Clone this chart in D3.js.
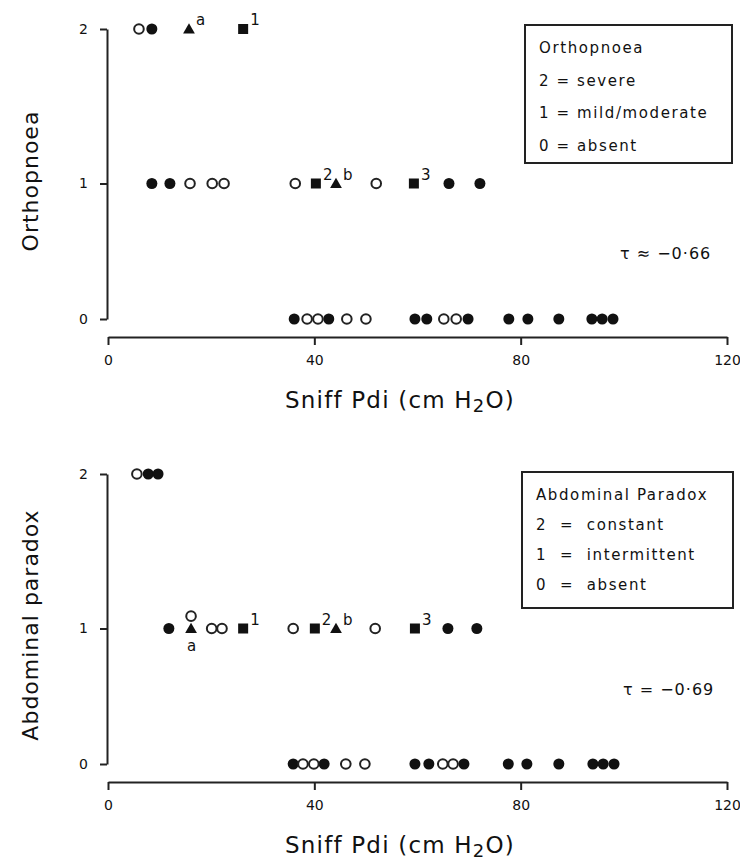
<!DOCTYPE html>
<html>
<head>
<meta charset="utf-8">
<script src="https://cdn.jsdelivr.net/npm/d3@7"></script>
<style>
  body { margin: 0; background: #fff; }
  svg text { font-family: "DejaVu Sans", sans-serif; fill: #111; }
  .axis path, .axis line { stroke: #222; stroke-width: 2px; }
  .axis text { font-size: 14px; }
</style>
</head>
<body>
<div id="chart"></div>
<script>

// ---- data ----
// x = sniff Pdi (cm H2O), y = score (0, 1, 2)
var xTicks = [0, 40, 80, 120];
var yTicks = [0, 1, 2];

// Orthopnoea panel
var orthoFilled = [[8.5, 2], [8.5, 1], [12, 1], [66.1, 1], [72.1, 1],
    [36.1, 0], [42.8, 0], [59.5, 0], [61.8, 0], [69.8, 0], [77.7, 0], [81.4, 0],
    [87.4, 0], [93.8, 0], [95.8, 0], [97.9, 0]];
var orthoOpen = [[6, 2], [15.9, 1], [20.2, 1], [22.5, 1], [36.3, 1], [52, 1],
    [38.6, 0], [40.7, 0], [46.3, 0], [50, 0], [65.1, 0], [67.5, 0]];
var orthoSquares = [[26.2, 2, "1"], [40.3, 1, "2"], [59.3, 1, "3"]];
var orthoTriangles = [[15.7, 2, "a"], [44.2, 1, "b"]];
var orthoLegend = ["Orthopnoea", "2 = severe", "1 = mild/moderate", "0 = absent"];
var orthoTau = "τ ≈ −0·66";

// Abdominal paradox panel
var abdoFilled = [[7.8, 2], [9.7, 2], [11.8, 1], [65.9, 1], [71.5, 1],
    [35.9, 0], [41.9, 0], [59.5, 0], [62.2, 0], [69, 0], [77.6, 0], [81.2, 0],
    [87.4, 0], [94, 0], [96, 0], [98.1, 0]];
var abdoOpen = [[5.6, 2], [16.1, 1.08], [20.1, 1], [22.1, 1], [35.9, 1], [51.8, 1],
    [37.8, 0], [39.9, 0], [46.1, 0], [49.8, 0], [64.9, 0], [66.9, 0]];
var abdoSquares = [[26.2, 1, "1"], [40.1, 1, "2"], [59.5, 1, "3"]];
var abdoTriangles = [[16.1, 1, "a"], [44.2, 1, "b"]];
var abdoLegend = ["Abdominal Paradox", "2  =  constant", "1  =  intermittent", "0  =  absent"];
var abdoTau = "τ = −0·69";

var svg = d3.select("#chart").append("svg")
    .attr("width", 740)
    .attr("height", 865);

ScatterPanel = function (_svg, _top, _opts) {
    this.svg = _svg;
    this.top = _top;
    this.opts = _opts;
    this.initVis();
}

ScatterPanel.prototype.initVis = function () {
    var vis = this;
    var o = vis.opts;

    vis.g = vis.svg.append("g")
        .attr("transform", "translate(0," + vis.top + ")");

    // Scales and axes
    vis.x = d3.scaleLinear()
        .domain([0, 120])
        .range([108, 727]);

    // the scan is not quite even, so the three levels get their own stops
    vis.y = d3.scaleLinear()
        .domain([0, 1, 2])
        .range([319, 183.5, 29]);

    vis.xAxis = d3.axisBottom(vis.x)
        .tickValues(xTicks)
        .tickSize(8)
        .tickSizeOuter(0)
        .tickPadding(10);

    vis.yAxis = d3.axisLeft(vis.y)
        .tickValues(yTicks)
        .tickFormat(d3.format("d"))
        .tickSize(7)
        .tickSizeOuter(0)
        .tickPadding(12);

    vis.g.append("g")
        .attr("class", "x-axis axis")
        .attr("transform", "translate(0,337)")
        .call(vis.xAxis);

    vis.g.append("g")
        .attr("class", "y-axis axis")
        .attr("transform", "translate(107,0)")
        .call(vis.yAxis);

    vis.g.selectAll(".axis .domain").attr("fill", "none");

    // axis titles
    var xt = vis.g.append("text")
        .attr("x", 400)
        .attr("y", 408)
        .attr("text-anchor", "middle")
        .style("font-size", "23px")
        .style("letter-spacing", "1.2px");
    xt.append("tspan").text("Sniff Pdi (cm H");
    xt.append("tspan").attr("dy", 4).style("font-size", "18px").text("2");
    xt.append("tspan").attr("dy", -4).text("O)");

    vis.g.append("text")
        .attr("transform", "translate(38," + o.yTitleCenter + ") rotate(-90)")
        .attr("text-anchor", "middle")
        .style("font-size", "22px")
        .style("letter-spacing", "1px")
        .text(o.yTitle);

    // markers
    vis.g.selectAll("circle.filled")
        .data(o.filled)
        .enter().append("circle")
        .attr("class", "filled")
        .attr("cx", function (d) { return vis.x(d[0]); })
        .attr("cy", function (d) { return vis.y(d[1]); })
        .attr("r", 5.5)
        .style("fill", "#111");

    vis.g.selectAll("circle.open")
        .data(o.open)
        .enter().append("circle")
        .attr("class", "open")
        .attr("cx", function (d) { return vis.x(d[0]); })
        .attr("cy", function (d) { return vis.y(d[1]); })
        .attr("r", 4.8)
        .style("fill", "#fff")
        .style("stroke", "#222")
        .style("stroke-width", "2px");

    vis.g.selectAll("rect.sq")
        .data(o.squares)
        .enter().append("rect")
        .attr("class", "sq")
        .attr("x", function (d) { return vis.x(d[0]) - 5; })
        .attr("y", function (d) { return vis.y(d[1]) - 5; })
        .attr("width", 10)
        .attr("height", 10)
        .style("fill", "#111");

    var tri = d3.symbol().type(d3.symbolTriangle).size(60);
    vis.g.selectAll("path.tri")
        .data(o.triangles)
        .enter().append("path")
        .attr("class", "tri")
        .attr("transform", function (d) { return "translate(" + vis.x(d[0]) + "," + (vis.y(d[1]) + 1) + ")"; })
        .attr("d", tri)
        .style("fill", "#111");

    // little case labels next to squares / triangles
    var labelled = o.squares.concat(o.triangles);
    vis.g.selectAll("text.case")
        .data(labelled)
        .enter().append("text")
        .attr("class", "case")
        .attr("x", function (d) { return vis.x(d[0]) + (o.below[d[2]] ? -4 : 7); })
        .attr("y", function (d) { return vis.y(d[1]) + (o.below[d[2]] ? 22 : -4); })
        .style("font-size", "15px")
        .text(function (d) { return d[2]; });

    // legend box
    vis.g.append("rect")
        .attr("x", o.box[0])
        .attr("y", o.box[1])
        .attr("width", o.box[2])
        .attr("height", o.box[3])
        .style("fill", "none")
        .style("stroke", "#222")
        .style("stroke-width", "2px");

    vis.g.selectAll("text.leg")
        .data(o.legend)
        .enter().append("text")
        .attr("class", "leg")
        .attr("x", o.box[0] + 14)
        .attr("y", function (d, i) { return o.box[1] + 28 + i * o.legStep; })
        .style("font-size", "15px")
        .style("letter-spacing", "1.6px")
        .style("white-space", "pre")
        .text(function (d) { return d; });

    vis.g.append("text")
        .attr("x", o.tauPos[0])
        .attr("y", o.tauPos[1])
        .style("font-size", "16px")
        .style("letter-spacing", "1px")
        .text(o.tau);
}

var top1 = new ScatterPanel(svg, 0, {
    filled: orthoFilled, open: orthoOpen, squares: orthoSquares, triangles: orthoTriangles,
    legend: orthoLegend, tau: orthoTau, yTitle: "Orthopnoea", yTitleCenter: 181,
    box: [525, 25, 207, 138], legStep: 32.5, tauPos: [620, 259], below: {}
});

var top2 = new ScatterPanel(svg, 445, {
    filled: abdoFilled, open: abdoOpen, squares: abdoSquares, triangles: abdoTriangles,
    legend: abdoLegend, tau: abdoTau, yTitle: "Abdominal paradox", yTitleCenter: 180,
    box: [522, 27, 211, 136], legStep: 30, tauPos: [623, 250], below: { a: true }
});

</script>
</body>
</html>
